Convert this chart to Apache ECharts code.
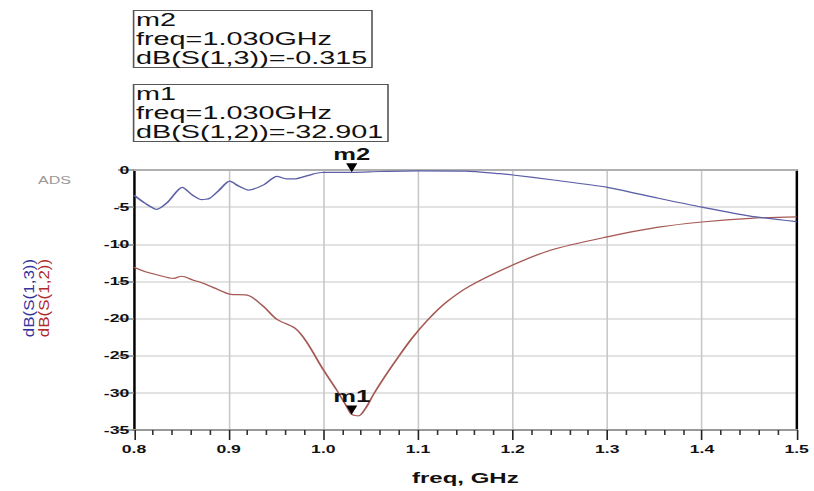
<!DOCTYPE html>
<html>
<head>
<meta charset="utf-8">
<script src="https://cdn.jsdelivr.net/npm/echarts@6/dist/echarts.min.js"></script>
<style>
  html, body { margin: 0; padding: 0; background: #fff; overflow: hidden; }
  /* the plot is drawn narrow and widened, giving the wide ADS-style lettering */
  #c { width: 509px; height: 491px; transform: scaleX(1.6); transform-origin: 0 0; }
</style>
</head>
<body>
<div id="c"></div>
<script>
// Frequency sweep (GHz) and traces (dB)
const freqS13 = [0.800, 0.812, 0.824, 0.835, 0.851, 0.862, 0.8715, 0.880, 0.890, 0.901, 0.911, 0.921, 0.937, 0.951, 0.961, 0.972, 0.989, 1.000, 1.030, 1.060, 1.100, 1.150, 1.187, 1.200, 1.243, 1.300, 1.354, 1.400, 1.451, 1.500];
const s13 = [-3.4, -4.5, -5.3, -4.4, -2.35, -3.4, -4.0, -3.8, -2.7, -1.5, -2.2, -2.7, -2.0, -0.85, -1.2, -1.15, -0.55, -0.3, -0.315, -0.2, -0.12, -0.15, -0.5, -0.67, -1.35, -2.33, -3.8, -5.0, -6.2, -6.96];

const freqS12 = [0.800, 0.812, 0.824, 0.842, 0.850, 0.862, 0.873, 0.887, 0.901, 0.921, 0.937, 0.951, 0.970, 0.982, 1.000, 1.014, 1.025, 1.030, 1.037, 1.045, 1.053, 1.065, 1.079, 1.094, 1.111, 1.130, 1.155, 1.200, 1.240, 1.300, 1.354, 1.400, 1.451, 1.500];
const s12 = [-13.1, -13.7, -14.1, -14.6, -14.3, -14.8, -15.25, -16.0, -16.7, -16.9, -18.4, -20.1, -21.3, -23.1, -26.9, -29.6, -31.9, -32.901, -33.1, -32.0, -30.2, -27.8, -25.2, -22.6, -20.1, -17.8, -15.6, -12.8, -10.8, -9.0, -7.7, -7.0, -6.5, -6.3];

// Markers: m2 on S(1,3), m1 on S(1,2)
const markerNames = ['m2', 'm1'];
const markerFreq = [1.030, 1.030];
const markerValues = [-0.315, -32.901];
const markerTraces = ['dB(S(1,3))', 'dB(S(1,2))'];

const xTicks = { min: 0.8, max: 1.5, step: 0.1 };
const yTicks = { min: -35, max: 0, step: 5 };

const FONT = "'Liberation Sans', Arial, sans-serif";
const BLUE = '#5b5fa6';
const RED = '#a65a55';

const pairs = (xs, ys) => xs.map((x, i) => [x, ys[i]]);

function markerText(i) {
  return markerNames[i] + '\nfreq=' + markerFreq[i].toFixed(3) + 'GHz\n' +
         markerTraces[i] + '=' + markerValues[i].toFixed(3);
}

function markerBox(i, top) {
  return {
    left: 83, top: top,
    text: markerText(i),
    padding: [0, 3, 1, 2],
    borderColor: '#555', borderWidth: 1,
    textStyle: { fontFamily: FONT, fontSize: 18, lineHeight: 19, fontWeight: 'normal', color: '#111' }
  };
}

function markPointFor(i) {
  return {
    symbol: 'path://M0,0 L10,0 L5,10 Z',
    symbolSize: [7, 9],
    symbolOffset: [0, -4.5],
    itemStyle: { color: '#000' },
    label: { show: true, position: 'top', distance: 1, formatter: '{b}',
             color: '#111', fontSize: 16, fontWeight: 'bold', fontFamily: FONT },
    data: [{ name: markerNames[i], coord: [markerFreq[i], markerValues[i]] }]
  };
}

// rotated trace names beside the value axis
function traceName(text, x, color) {
  return {
    type: 'text', x: x, y: 298, rotation: Math.PI / 2, scaleY: 0.55,
    style: { text: text, fill: color, font: '17px ' + FONT,
             align: 'center', verticalAlign: 'middle', textAlign: 'center', textVerticalAlign: 'middle' }
  };
}

const chart = echarts.init(document.getElementById('c'), null, { renderer: 'svg' });
chart.setOption({
  animation: false,
  backgroundColor: '#fff',
  title: [markerBox(0, 10), markerBox(1, 84)],
  grid: { left: 83.75, right: 11.1, top: 170, bottom: 61 },
  xAxis: [{
    type: 'value', min: xTicks.min, max: xTicks.max, interval: xTicks.step,
    name: 'freq, GHz', nameLocation: 'middle', nameGap: 40,
    nameTextStyle: { fontFamily: FONT, fontSize: 15, fontWeight: 'bold', color: '#111' },
    axisLine: { onZero: false, lineStyle: { color: '#999', width: 2 } },
    axisTick: { length: 10, lineStyle: { color: '#222', width: 1 } },
    minorTick: { show: true, splitNumber: 5, length: 5, lineStyle: { color: '#333', width: 1 } },
    axisLabel: { margin: 14, fontFamily: FONT, fontSize: 11, fontWeight: 'bold', color: '#111',
                 formatter: v => v.toFixed(1) },
    splitLine: { show: true, lineStyle: { color: '#c8c8c8', width: 1 } }
  }, {
    type: 'value', position: 'top', min: xTicks.min, max: xTicks.max,
    axisLine: { show: true, onZero: false, lineStyle: { color: '#b0b0b0', width: 2 } },
    axisTick: { show: false }, axisLabel: { show: false }, splitLine: { show: false }
  }],
  yAxis: [{
    type: 'value', min: yTicks.min, max: yTicks.max, interval: yTicks.step,
    axisLine: { show: true, onZero: false, lineStyle: { color: '#000', width: 1.5 } },
    axisTick: { show: true, length: 10, lineStyle: { color: '#888', width: 1.5 } },
    axisLabel: { margin: 3, fontFamily: FONT, fontSize: 11, fontWeight: 'bold', color: '#111' },
    splitLine: { show: true, lineStyle: { color: '#d9d9d9', width: 1.5 } }
  }, {
    type: 'value', position: 'right', min: yTicks.min, max: yTicks.max,
    axisLine: { show: true, onZero: false, lineStyle: { color: '#000', width: 1.5 } },
    axisTick: { show: false }, axisLabel: { show: false }, splitLine: { show: false }
  }],
  graphic: [
    { type: 'text', x: 34, y: 181,
      style: { text: 'ADS', fill: '#999', font: '10px ' + FONT,
               align: 'center', verticalAlign: 'middle', textAlign: 'center', textVerticalAlign: 'middle' } },
    traceName(markerTraces[0], 18, '#34349c'),
    traceName(markerTraces[1], 27.2, '#b02a2a')
  ],
  series: [{
    name: 'dB(S(1,2))', type: 'line', data: pairs(freqS12, s12),
    showSymbol: false, smooth: 0.3, lineStyle: { color: RED, width: 1.2 },
    markPoint: markPointFor(1)
  }, {
    name: 'dB(S(1,3))', type: 'line', data: pairs(freqS13, s13),
    showSymbol: false, smooth: 0.25, lineStyle: { color: BLUE, width: 1.2 },
    markPoint: markPointFor(0)
  }]
});
</script>
</body>
</html>
